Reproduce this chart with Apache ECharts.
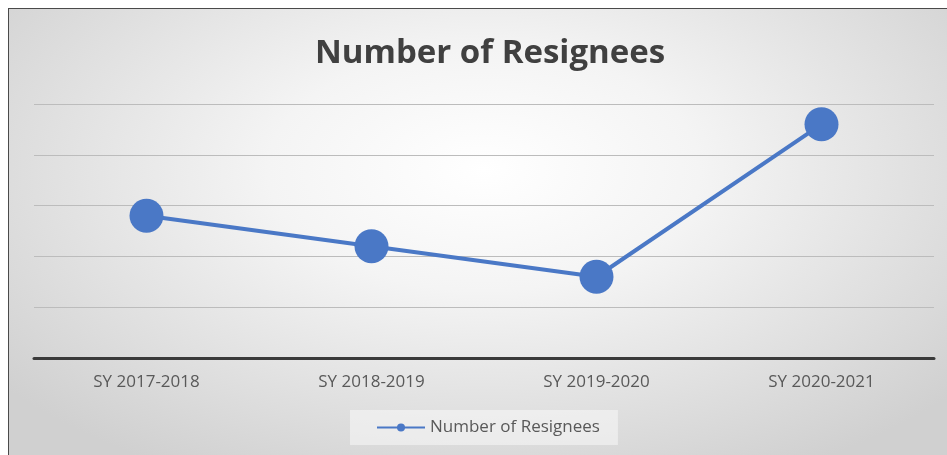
<!DOCTYPE html>
<html>
<head>
<meta charset="utf-8">
<script src="https://cdn.jsdelivr.net/npm/echarts@6/dist/echarts.min.js"></script>
<style>
  html, body { margin: 0; padding: 0; background: #ffffff; }
  #frame {
    position: absolute; left: 8px; top: 8px; width: 950px; height: 460px;
    border: 1px solid #4a4a4a;
    background: radial-gradient(ellipse 65% 75% at 50% 35%, #ffffff 0%, #f4f4f4 35%, #d0d0d0 100%);
  }
  #chart { position: absolute; left: 0; top: 0; width: 947px; height: 455px; }
</style>
</head>
<body>
<div id="frame"></div>
<div id="chart"></div>
<script>
const categories = ['SY 2017-2018', 'SY 2018-2019', 'SY 2019-2020', 'SY 2020-2021'];
const resignees = [28, 22, 16, 46];
const seriesName = 'Number of Resignees';

const chart = echarts.init(document.getElementById('chart'), null, { renderer: 'canvas' });
chart.setOption({
  backgroundColor: 'transparent',
  animation: false,
  title: {
    text: 'Number of Resignees',
    left: 310,
    top: 32,
    textStyle: { fontFamily: 'Open Sans', fontWeight: 'bold', fontSize: 33, color: '#404040' }
  },
  legend: {
    data: [seriesName],
    left: 350,
    top: 410,
    padding: [9, 18, 9, 26],
    backgroundColor: 'rgba(255,255,255,0.45)',
    itemWidth: 48,
    itemHeight: 10,
    itemGap: 4,
    textStyle: { fontFamily: 'Open Sans', fontSize: 17, color: '#595959' }
  },
  grid: { left: 34, right: 13, top: 104, bottom: 97 },
  xAxis: {
    type: 'category',
    data: categories,
    boundaryGap: true,
    axisLine: { lineStyle: { color: '#3a3a3a', width: 3 } },
    axisTick: { show: false },
    axisLabel: { fontFamily: 'Open Sans', fontSize: 17, color: '#595959', margin: 16 }
  },
  yAxis: {
    type: 'value',
    min: 0, max: 50, interval: 10,
    axisLine: { show: false },
    axisTick: { show: false },
    axisLabel: { show: false },
    splitLine: { lineStyle: { color: '#bcbcbc', width: 1 } }
  },
  series: [{
    name: seriesName,
    type: 'line',
    data: resignees,
    symbol: 'circle',
    symbolSize: 34,
    lineStyle: { color: '#4a78c6', width: 4 },
    itemStyle: { color: '#4a78c6' }
  }]
});
</script>
</body>
</html>
